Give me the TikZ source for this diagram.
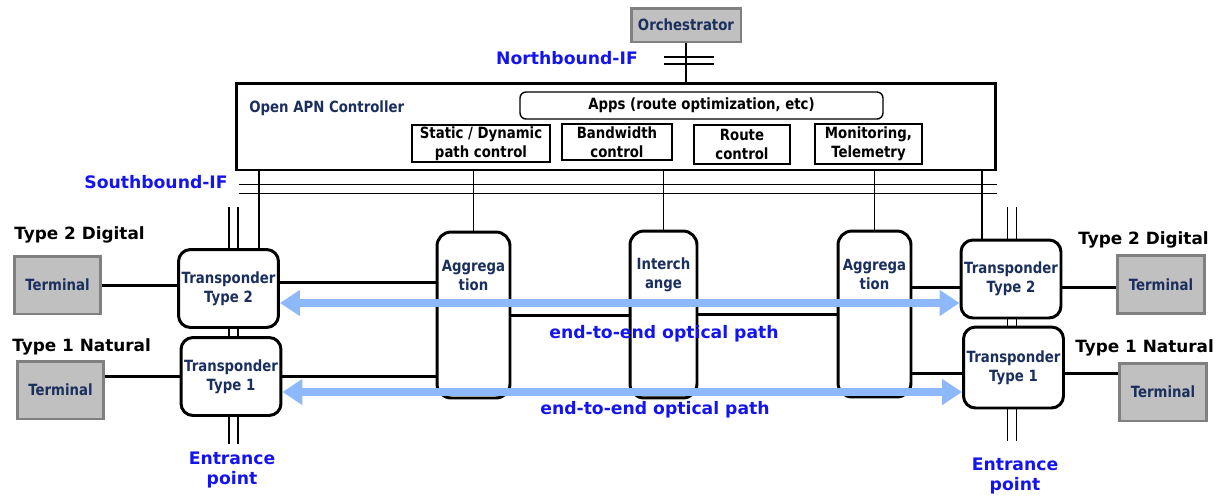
\documentclass[tikz,border=0pt]{standalone}
\usepackage{fontspec}
\setmainfont{DejaVu Sans}
\newfontfamily\narrowfont[FakeStretch=0.86]{DejaVu Sans}
\usetikzlibrary{arrows.meta,positioning}

\definecolor{navy}{HTML}{1B2F5E}
\definecolor{ifblue}{HTML}{1414F0}
\definecolor{pathblue}{HTML}{8DB9FA}
\definecolor{termgray}{HTML}{C0C0C0}
\definecolor{termedge}{HTML}{808080}

\tikzset{
  small/.style={font=\narrowfont\fontsize{8.8}{11}\selectfont\bfseries, align=center, inner sep=0pt},
  term/.style={small, text=navy, draw=termedge, fill=termgray, line width=1.7pt,
    minimum width=1.74cm, minimum height=1.16cm},
  trans/.style={small, text=navy, draw, fill=white, rounded corners=0.24cm, line width=1.7pt,
    minimum width=2cm, minimum height=1.56cm},
  tall/.style={draw, rounded corners=0.28cm, line width=1.7pt,
    minimum width=1.46cm, minimum height=3.32cm},
  ctlbox/.style={small, draw, line width=0.8pt},
  tag/.style={font=\fontsize{9.8}{11.5}\selectfont\bfseries, text=ifblue, align=center, inner sep=0pt},
  captxt/.style={font=\fontsize{9.6}{11}\selectfont\bfseries, inner sep=0pt},
  link/.style={line width=1.7pt},
  thin/.style={line width=0.8pt},
  optic/.style={pathblue, line width=0.16cm, {Triangle[length=0.4cm,width=0.5cm]}-{Triangle[length=0.4cm,width=0.5cm]}}
}

\begin{document}
\begin{tikzpicture}[x=0.02cm, y=-0.02cm]

	\useasboundingbox (0,0) rectangle (1225,495);

	% controller and orchestrator
	\node[small, text=navy, draw=termedge, fill=termgray, line width=1.7pt,
	  minimum width=2.2cm, minimum height=0.68cm] (orch) at (686,25) {Orchestrator};

	\node[draw, line width=1.7pt, minimum width=15.2cm, minimum height=1.74cm] (ctrl) at (616,126.5) {};
	\node[small, text=navy, anchor=west] (ctrlname) at (249,108) {Open APN Controller};

	\node[small, draw, rounded corners=0.12cm, line width=0.8pt,
	  minimum width=7.26cm, minimum height=0.54cm] (apps) at (701.5,105.5) {Apps (route optimization, etc)};

	\node[ctlbox, minimum width=2.76cm, minimum height=0.74cm] (sdpc) at (481,143.5) {Static / Dynamic\\path control};
	\node[ctlbox, minimum width=2.2cm, minimum height=0.72cm] (bwc) at (617,142) {Bandwidth\\control};
	\node[ctlbox, minimum width=1.92cm, minimum height=0.78cm] (rtc) at (742,144.5) {Route\\control};
	\node[ctlbox, minimum width=2.14cm, minimum height=0.8cm] (mon) at (868.5,144) {Monitoring,\\Telemetry};

	% network elements
	\node[term] (term2L) at (57.5,285) {Terminal};
	\node[term] (term1L) at (60.5,390) {Terminal};
	\node[trans] (tr2L) at (228.5,288.5) {Transponder\\Type 2};
	\node[trans] (tr1L) at (231,376.5) {Transponder\\Type 1};

	\node[tall] (agg1) at (473.5,315) {};
	\node[tall, minimum width=1.34cm, minimum height=3.34cm] (ichg) at (663.5,314.5) {};
	\node[tall] (agg2) at (874.5,314) {};
	\node[small, text=navy] at ([yshift=-0.9cm]agg1.north) {Aggrega\\tion};
	\node[small, text=navy] at ([yshift=-0.9cm]ichg.north) {Interch\\ange};
	\node[small, text=navy] at ([yshift=-0.9cm]agg2.north) {Aggrega\\tion};

	\node[trans] (tr2R) at (1011,279) {Transponder\\Type 2};
	\node[trans, minimum height=1.62cm] (tr1R) at (1013.5,367.5) {Transponder\\Type 1};
	\node[term] (term2R) at (1161,284.5) {Terminal};
	\node[term] (term1R) at (1163,392) {Terminal};

	\node[captxt, anchor=west] (dig2L) at (14,235) {Type 2 Digital};
	\node[captxt, anchor=west] (nat1L) at (12,347) {Type 1 Natural};
	\node[captxt, anchor=west] (dig2R) at (1078,240) {Type 2 Digital};
	\node[captxt, anchor=west] (nat1R) at (1075,348) {Type 1 Natural};

	% interfaces
	\node[tag] (nbif) at (567,58) {Northbound-IF};
	\node[tag, anchor=east] (sbif) at (228,182) {Southbound-IF};

	\draw[thin] (orch.south) -- (orch.south |- ctrl.north);
	\draw[thin] (664,57) -- (714,57);
	\draw[thin] (664,64) -- (714,64);

	\draw[thin] ([xshift=0.08cm,yshift=-0.26cm]ctrl.south west) -- ([yshift=-0.26cm]ctrl.south east);
	\draw[thin] ([xshift=0.08cm,yshift=-0.44cm]ctrl.south west) -- ([yshift=-0.44cm]ctrl.south east);

	\draw[thin] ([xshift=0.61cm]tr2L.north) -- ([xshift=0.61cm]tr2L.north |- ctrl.south);
	\draw[thin] (agg1.north) -- (agg1.north |- ctrl.south);
	\draw[thin] (ichg.north) -- (ichg.north |- ctrl.south);
	\draw[thin] (agg2.north) -- (agg2.north |- ctrl.south);
	\draw[thin] ([xshift=-0.58cm]tr2R.north) -- ([xshift=-0.58cm]tr2R.north |- ctrl.south);

	% entrance lines
	\coordinate (entL) at (233.5,207);
	\coordinate (entR) at (1012,207);
	\foreach \dx in {-4.5,4.5} {
	  \draw[thin] ([xshift=\dx*0.02cm]entL) -- ([xshift=\dx*0.02cm]entL |- tr2L.north);
	  \draw[thin] ([xshift=\dx*0.02cm]entL |- tr2L.south) -- ([xshift=\dx*0.02cm]entL |- tr1L.north);
	  \draw[thin] ([xshift=\dx*0.02cm]entL |- tr1L.south) -- ([xshift=\dx*0.02cm,yshift=-0.54cm]entL |- tr1L.south);
	  \draw[thin] ([xshift=\dx*0.02cm]entR) -- ([xshift=\dx*0.02cm]entR |- tr2R.north);
	  \draw[thin] ([xshift=\dx*0.02cm]entR |- tr2R.south) -- ([xshift=\dx*0.02cm]entR |- tr1R.north);
	  \draw[thin] ([xshift=\dx*0.02cm]entR |- tr1R.south) -- ([xshift=\dx*0.02cm,yshift=-0.64cm]entR |- tr1R.south);
	}

	\node[tag] (entrL) at (232,470) {Entrance\\point};
	\node[tag] (entrR) at (1015,476) {Entrance\\point};

	% data plane links
	\draw[link] (term2L.east) -- (term2L.east -| tr2L.west);
	\draw[link] (tr1L.west) -- (tr1L.west -| term1L.east);
	\draw[link] ([yshift=0.13cm]tr2L.east) -- ([yshift=0.13cm]tr2L.east -| agg1.west);
	\draw[link] (tr1L.east) -- (tr1L.east -| agg1.west);
	\draw[link] (agg1.east) -- (agg1.east -| ichg.west);
	\draw[link] (ichg.east) -- (ichg.east -| agg2.west);
	\draw[link] ([yshift=-0.16cm]tr2R.west) -- ([yshift=-0.16cm]tr2R.west -| agg2.east);
	\draw[link] ([yshift=-0.11cm]tr1R.west) -- ([yshift=-0.11cm]tr1R.west -| agg2.east);
	\draw[link] ([yshift=-0.16cm]tr2R.east) -- ([yshift=-0.16cm]tr2R.east -| term2R.west);
	\draw[link] ([yshift=-0.11cm]tr1R.east) -- ([yshift=-0.11cm]tr1R.east -| term1R.west);

	% optical paths
	\draw[optic] ([yshift=-0.29cm]tr2L.east) -- ([yshift=-0.29cm]tr2L.east -| tr2R.west);
	\draw[optic] ([yshift=-0.31cm]tr1L.east) -- ([yshift=-0.31cm]tr1L.east -| tr1R.west);

	\node[tag] (path2) at (664,334) {end-to-end optical path};
	\node[tag] (path1) at (655,410) {end-to-end optical path};

\end{tikzpicture}
\end{document}
